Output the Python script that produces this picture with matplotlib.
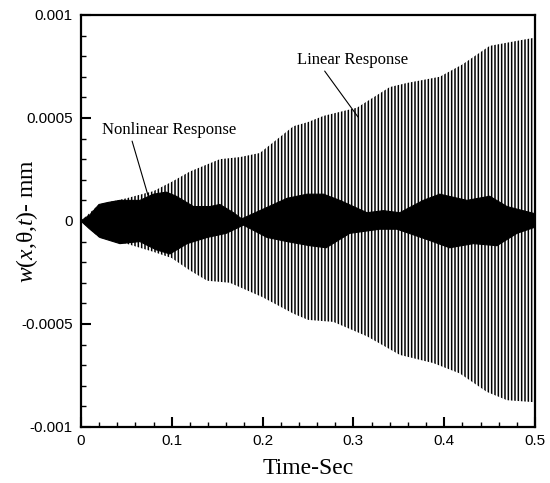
import numpy as np
import matplotlib
matplotlib.use("Agg")
import matplotlib.pyplot as plt

plt.rcParams['mathtext.fontset'] = 'custom'
plt.rcParams['mathtext.rm'] = 'Liberation Serif'
plt.rcParams['mathtext.it'] = 'Liberation Serif:italic'
plt.rcParams['hatch.linewidth'] = 1.1

# envelope of the linear response (in mm)
lin_hi_t = [0, 0.02, 0.05, 0.08, 0.1, 0.12, 0.153, 0.175, 0.197, 0.234, 0.25,
            0.267, 0.304, 0.34, 0.359, 0.395, 0.42, 0.45, 0.487, 0.5]
lin_hi = [0, 0.8, 1.1, 1.45, 1.9, 2.4, 3.0, 3.1, 3.3, 4.6, 4.8,
          5.1, 5.5, 6.5, 6.7, 7.0, 7.6, 8.5, 8.8, 8.9]
lin_lo_t = [0, 0.02, 0.05, 0.08, 0.1, 0.12, 0.139, 0.164, 0.2, 0.234, 0.25,
            0.278, 0.315, 0.351, 0.388, 0.417, 0.447, 0.469, 0.5]
lin_lo = [0, -0.8, -1.1, -1.5, -1.8, -2.4, -2.9, -3.0, -3.7, -4.5, -4.8,
          -4.9, -5.6, -6.5, -6.9, -7.4, -8.3, -8.7, -8.8]

# envelope of the nonlinear response
nl_hi_t = [0, 0.01, 0.02, 0.03, 0.043, 0.065, 0.08, 0.094, 0.105, 0.124, 0.142,
           0.153, 0.168, 0.177, 0.197, 0.227, 0.249, 0.267, 0.285, 0.315, 0.333,
           0.351, 0.377, 0.395, 0.425, 0.45, 0.469, 0.5]
nl_hi = [0, 0.3, 0.8, 0.9, 1.0, 1.0, 1.3, 1.4, 1.2, 0.7, 0.7,
         0.8, 0.4, 0.1, 0.5, 1.1, 1.3, 1.3, 1.0, 0.4, 0.5,
         0.4, 1.0, 1.3, 1.0, 1.2, 0.7, 0.35]
nl_lo_t = [0, 0.01, 0.021, 0.043, 0.065, 0.083, 0.098, 0.117, 0.139, 0.16, 0.179,
           0.205, 0.227, 0.252, 0.27, 0.296, 0.329, 0.348, 0.381, 0.406, 0.432,
           0.458, 0.48, 0.5]
nl_lo = [0, -0.4, -0.8, -1.1, -1.0, -1.4, -1.6, -1.1, -0.8, -0.6, -0.2,
         -0.8, -1.0, -1.2, -1.3, -0.6, -0.4, -0.4, -0.9, -1.3, -1.1,
         -1.2, -0.6, -0.3]

x_ticks = [0, 0.1, 0.2, 0.3, 0.4, 0.5]
x_labels = ["0", "0.1", "0.2", "0.3", "0.4", "0.5"]
y_ticks = [-0.001, -0.0005, 0, 0.0005, 0.001]
y_labels = ["-0.001", "-0.0005", "0", "0.0005", "0.001"]

scale = 1e-4


def band(t_hi, hi, t_lo, lo):
    # closed outline: upper edge left to right, lower edge back
    xs = list(t_hi) + list(t_lo)[::-1]
    ys = [v * scale for v in hi] + [v * scale for v in lo][::-1]
    return xs, ys


fig = plt.figure(figsize=(5.5, 4.83), dpi=100)
ax = fig.add_axes([0.147, 0.116, 0.826, 0.853])

# linear response: dense vertical strokes
xs, ys = band(lin_hi_t, lin_hi, lin_lo_t, lin_lo)
ax.fill(xs, ys, facecolor='none', edgecolor='black', hatch='|||||', linewidth=0)

# nonlinear response: solid black band
xs, ys = band(nl_hi_t, nl_hi, nl_lo_t, nl_lo)
ax.fill(xs, ys, facecolor='black', edgecolor='black', linewidth=0.8)

ax.set_xlim(0, 0.5)
ax.set_ylim(-0.001, 0.001)
ax.set_xticks(x_ticks)
ax.set_xticklabels(x_labels)
ax.set_yticks(y_ticks)
ax.set_yticklabels(y_labels)
ax.set_xticks(np.arange(0, 0.5001, 0.02), minor=True)
ax.set_yticks(np.arange(-0.001, 0.00101, 0.0001), minor=True)

for lab in ax.get_xticklabels() + ax.get_yticklabels():
    lab.set_fontfamily('Liberation Sans')
    lab.set_fontsize(11)

ax.tick_params(which='major', direction='in', length=7, width=1.5, pad=5)
ax.tick_params(which='minor', direction='in', length=3.8, width=1.0)
ax.tick_params(axis='y', which='major', pad=6)
for s in ax.spines.values():
    s.set_linewidth(1.6)

ax.set_xlabel("Time-Sec", fontfamily='Liberation Serif', fontsize=17, labelpad=7)
ax.set_ylabel(r"$w$($x$,θ,$t$)- mm", fontfamily='Liberation Serif', fontsize=17)
# label sits beside the "0" tick label, between the other tick labels
ax.yaxis.set_label_coords(-0.09, 0.5)

ax.annotate("Linear Response", xy=(0.305, 0.000505), xytext=(0.238, 0.00078),
            fontfamily='Liberation Serif', fontsize=12, ha='left', va='center',
            arrowprops=dict(arrowstyle='-', color='black', lw=0.8,
                            shrinkA=0, shrinkB=0, relpos=(0.23, 0.0)))
ax.annotate("Nonlinear Response", xy=(0.0738, 0.000126), xytext=(0.023, 0.00044),
            fontfamily='Liberation Serif', fontsize=12, ha='left', va='center',
            arrowprops=dict(arrowstyle='-', color='black', lw=0.8,
                            shrinkA=0, shrinkB=0, relpos=(0.22, 0.0)))

fig.savefig("out.png", dpi=100)
